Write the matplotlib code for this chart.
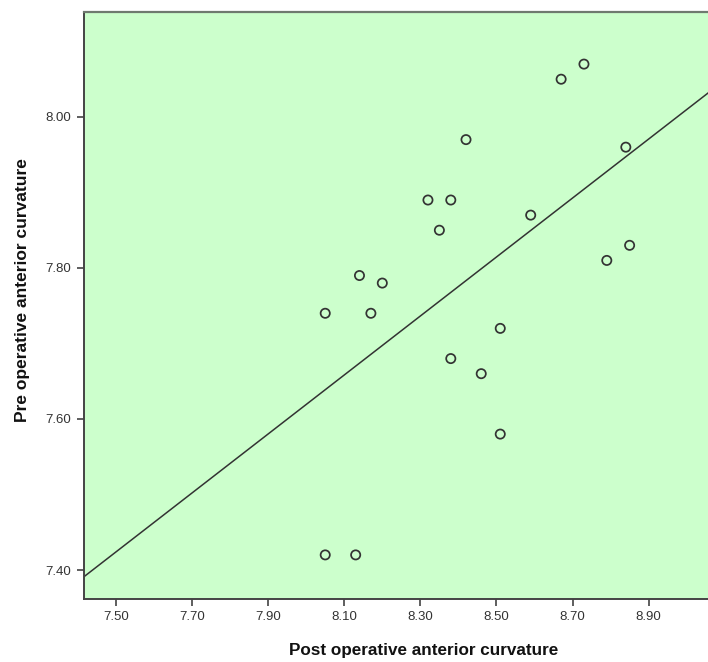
import numpy as np
import matplotlib
matplotlib.use("Agg")
import matplotlib.pyplot as plt

# Data
post_curv = [8.73, 8.67, 8.42, 8.84, 8.32, 8.38, 8.59, 8.35, 8.85, 8.79,
             8.14, 8.20, 8.05, 8.17, 8.51, 8.38, 8.46, 8.51, 8.05, 8.13]
pre_curv = [8.07, 8.05, 7.97, 7.96, 7.89, 7.89, 7.87, 7.85, 7.83, 7.81,
            7.79, 7.78, 7.74, 7.74, 7.72, 7.68, 7.66, 7.58, 7.42, 7.42]
x_ticks = [7.50, 7.70, 7.90, 8.10, 8.30, 8.50, 8.70, 8.90]
y_ticks = [7.40, 7.60, 7.80, 8.00]
x_label = "Post operative anterior curvature"
y_label = "Pre operative anterior curvature"

plt.rcParams['font.family'] = ['Liberation Sans', 'DejaVu Sans']

W, H = 708, 662
fig = plt.figure(figsize=(W / 100, H / 100), dpi=100)
left, right, top, bottom = 84, 708, 12, 598.7
ax = fig.add_axes([left / W, 1 - bottom / H, (right - left) / W, (bottom - top) / H])
ax.set_facecolor('#CCFFCC')

xlim = (7.416, 9.056)
ylim = (7.362, 8.139)

ax.scatter(post_curv, pre_curv, s=44, facecolors='none', edgecolors='#333333',
           linewidths=1.25, zorder=3)

slope, intercept = np.polyfit(post_curv, pre_curv, 1)
xs = np.array(xlim)
ax.plot(xs, intercept + slope * xs, color='#333333', lw=1.1, zorder=2)

ax.set_xlim(*xlim)
ax.set_ylim(*ylim)
ax.set_xticks(x_ticks)
ax.set_xticklabels([f"{v:.2f}" for v in x_ticks])
ax.set_yticks(y_ticks)
ax.set_yticklabels([f"{v:.2f}" for v in y_ticks])

ax.tick_params(axis='both', direction='out', length=5, width=1.1,
               color='#333333', labelsize=9.5, labelcolor='#333333', pad=4)

for s in ['left', 'bottom']:
    ax.spines[s].set_color('#444444')
    ax.spines[s].set_linewidth(1.4)
ax.spines['top'].set_color('#6f7a6f')
ax.spines['top'].set_linewidth(1.6)
ax.spines['right'].set_visible(False)

fig.text(424 / W, 1 - 650 / H, x_label, ha='center', va='center',
         fontsize=12.3, fontweight='bold', color='#111111')
fig.text(23 / W, 1 - 290 / H, y_label, ha='center', va='center',
         rotation=90, fontsize=12.5, fontweight='bold', color='#111111')

fig.savefig('out.png', dpi=100, facecolor='white')
